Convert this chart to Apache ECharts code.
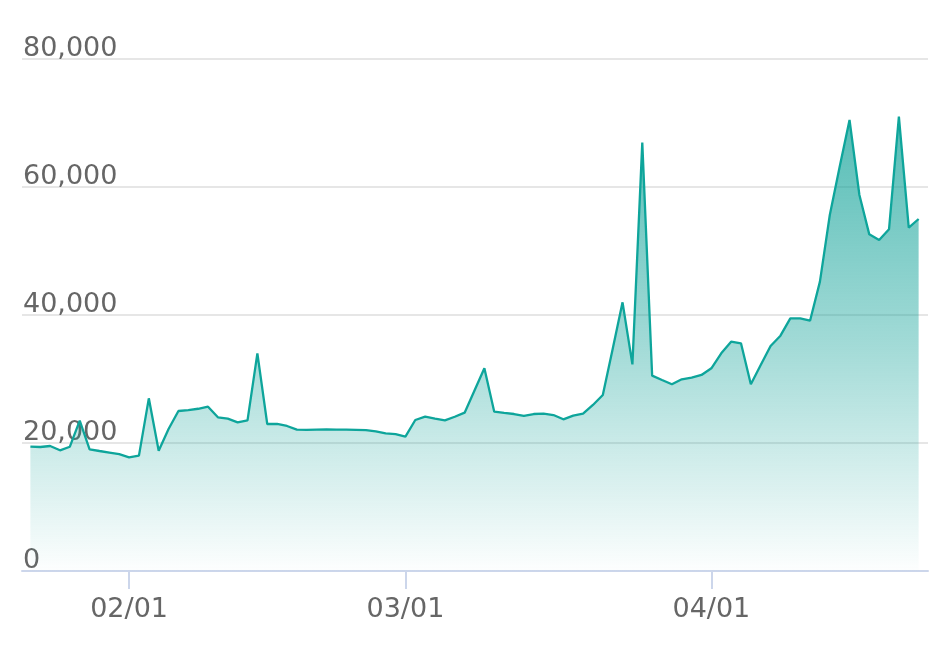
<!DOCTYPE html>
<html>
<head>
<meta charset="utf-8">
<script src="https://cdn.jsdelivr.net/npm/echarts@6/dist/echarts.min.js"></script>
<style>html,body{margin:0;padding:0;background:#fff}#c{width:952px;height:648px}</style>
</head>
<body>
<div id="c"></div>
<script>
var dates = [
'2023-01-22','2023-01-23','2023-01-24','2023-01-25','2023-01-26','2023-01-27','2023-01-28','2023-01-29','2023-01-30','2023-01-31',
'2023-02-01','2023-02-02','2023-02-03','2023-02-04','2023-02-05','2023-02-06','2023-02-07','2023-02-08','2023-02-09','2023-02-10',
'2023-02-11','2023-02-12','2023-02-13','2023-02-14','2023-02-15','2023-02-16','2023-02-17','2023-02-18','2023-02-19','2023-02-20',
'2023-02-21','2023-02-22','2023-02-23','2023-02-24','2023-02-25','2023-02-26','2023-02-27','2023-02-28','2023-03-01','2023-03-02',
'2023-03-03','2023-03-04','2023-03-05','2023-03-06','2023-03-07','2023-03-08','2023-03-09','2023-03-10','2023-03-11','2023-03-12',
'2023-03-13','2023-03-14','2023-03-15','2023-03-16','2023-03-17','2023-03-18','2023-03-19','2023-03-20','2023-03-21','2023-03-22',
'2023-03-23','2023-03-24','2023-03-25','2023-03-26','2023-03-27','2023-03-28','2023-03-29','2023-03-30','2023-03-31','2023-04-01',
'2023-04-02','2023-04-03','2023-04-04','2023-04-05','2023-04-06','2023-04-07','2023-04-08','2023-04-09','2023-04-10','2023-04-11',
'2023-04-12','2023-04-13','2023-04-14','2023-04-15','2023-04-16','2023-04-17','2023-04-18','2023-04-19','2023-04-20','2023-04-21',
'2023-04-22'
];
var values = [
19420,19375,19530,18860,19420,23490,19010,18750,18500,18250,
17760,18020,26980,18800,22190,25000,25150,25350,25670,24010,
23800,23230,23540,34010,22970,22970,22660,22080,22050,22080,
22110,22100,22080,22050,22000,21800,21500,21400,20990,23590,
24110,23800,23540,24100,24740,28200,31670,24900,24700,24530,
24220,24530,24580,24370,23700,24270,24580,25940,27500,34700,
41980,32290,66930,30520,29840,29170,29950,30210,30630,31670,
34010,35830,35570,29170,32190,35160,36770,39480,39480,39110,
45210,55630,63180,70470,58750,52600,51720,53390,70990,53650,
55000
];
var monthTicks = ['2023-02-01','2023-03-01','2023-04-01'];
var yTicks = [0,20000,40000,60000,80000];

function ts(s){var p=s.split('-');return Date.UTC(+p[0],+p[1]-1,+p[2]);}
var DAY = 86400000;
var seriesData = dates.map(function(d,i){return [ts(d), values[i]];});
var tickVals = monthTicks.map(ts);

var chart = echarts.init(document.getElementById('c'), null, {renderer:'canvas'});
chart.setOption({
  animation:false,
  grid:{left:22,right:24,top:59,bottom:77,containLabel:false},
  xAxis:{
    type:'value',
    min: ts(dates[0]) - 0.85*DAY,
    max: ts(dates[dates.length-1]) + 0.95*DAY,
    axisLine:{show:true,lineStyle:{color:'#ccd6eb',width:2}},
    axisTick:{show:true,length:18,lineStyle:{color:'#ccd6eb',width:2},customValues:tickVals},
    splitLine:{show:false},
    axisLabel:{
      customValues:tickVals,
      color:'#666666',fontFamily:'DejaVu Sans',fontSize:27,margin:25,
      formatter:function(v){var d=new Date(v);var m=d.getUTCMonth()+1,dd=d.getUTCDate();return (m<10?'0':'')+m+'/'+(dd<10?'0':'')+dd;}
    }
  },
  yAxis:{
    type:'value',min:0,max:80000,interval:20000,
    axisLine:{show:false},axisTick:{show:false},
    splitLine:{show:true,lineStyle:{color:'#e6e6e6',width:2}},
    axisLabel:{
      inside:true,margin:1,color:'#666666',fontFamily:'DejaVu Sans',fontSize:27,
      verticalAlign:'bottom',align:'left',padding:[0,0,-3,0],
      formatter:function(v){return v.toLocaleString('en-US');}
    }
  },
  series:[{
    type:'line',
    data:seriesData,
    showSymbol:false,
    symbol:'none',
    lineStyle:{color:'#0ea59b',width:2.3},
    itemStyle:{color:'#0ea59b'},
    areaStyle:{
      color:new echarts.graphic.LinearGradient(0,0,0,1,[
        {offset:0,color:'rgba(12,160,150,1)'},
        {offset:0.5,color:'rgba(12,160,150,0.55)'},
        {offset:1,color:'rgba(12,160,150,0.01)'}
      ])
    }
  }]
});
</script>
</body>
</html>
